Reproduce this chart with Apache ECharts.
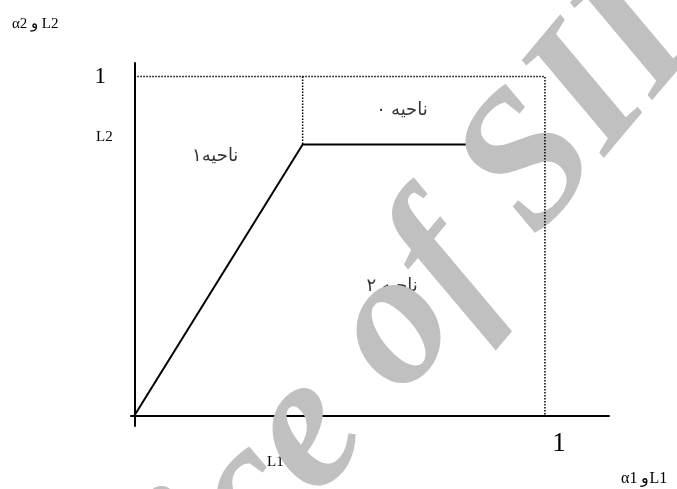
<!DOCTYPE html>
<html>
<head>
<meta charset="utf-8">
<script src="https://cdn.jsdelivr.net/npm/echarts@6/dist/echarts.min.js"></script>
<style>
  html, body { margin: 0; padding: 0; background: #fff; }
  #main { width: 677px; height: 489px; }
</style>
</head>
<body>
<div id="main"></div>
<script>
// 边界线（实线）
var boundaryX = [0, 0.41, 0.81];
var boundaryY = [0, 0.8, 0.8];
// 外框（虚线）
var frameX = [0, 1, 1];
var frameY = [1, 1, 0];
var dividerX = [0.41, 0.41];
var dividerY = [1, 0.8];
// 区域标签
var regionNames = ['ناحیه ۰', 'ناحیه۱', 'ناحیه ۲'];
var regionX = [0.652, 0.197, 0.628];
var regionY = [0.9, 0.767, 0.383];
// 坐标轴刻度
var tickValues = [1];

function pairs(xs, ys) {
    return xs.map(function (x, i) { return [x, ys[i]]; });
}

var chart = echarts.init(document.getElementById('main'));
var serif = '"Liberation Serif", "Times New Roman", serif';
var arabic = '"Liberation Sans", "DejaVu Sans", sans-serif';

var option = {
    animation: false,
    backgroundColor: '#fff',
    grid: { left: 131, right: 68, top: 63, bottom: 63 },
    xAxis: {
        type: 'value', min: -0.008, max: 1.156,
        splitLine: { show: false },
        axisTick: { show: false },
        axisLine: { onZero: true, lineStyle: { color: '#000', width: 2 } },
        axisLabel: {
            customValues: tickValues, margin: 4, padding: [0, 0, 0, 28],
            color: '#000', fontSize: 27, fontFamily: serif
        }
    },
    yAxis: {
        type: 'value', min: -0.03, max: 1.04,
        splitLine: { show: false },
        axisTick: { show: false },
        axisLine: { onZero: true, lineStyle: { color: '#000', width: 2 } },
        axisLabel: {
            customValues: tickValues, margin: 25, padding: [4, 0, 0, 0],
            color: '#000', fontSize: 23, fontFamily: serif
        }
    },
    graphic: [
        { type: 'text', x: 12, y: 17, style: { text: 'α2 و L2', font: '15px ' + serif, fill: '#000' } },
        { type: 'text', x: 621, y: 471, style: { text: 'α1 وL1', font: '16px ' + serif, fill: '#000' } },
        { type: 'text', x: 96, y: 130, style: { text: 'L2', font: '15px ' + serif, fill: '#000' } },
        { type: 'text', x: 267, y: 455, style: { text: 'L1', font: '15px ' + serif, fill: '#000' } },
        // 水印
        {
            type: 'text', x: 190, y: 574, rotation: 50 * Math.PI / 180, z: 50,
            style: {
                text: 'ice of SID', x: 0, y: 0, align: 'left', verticalAlign: 'middle',
                font: 'italic bold 192px ' + serif, fill: '#c0c0c0'
            }
        }
    ],
    series: [
        {
            type: 'line', data: pairs(boundaryX, boundaryY), symbol: 'none', z: 3,
            lineStyle: { color: '#000', width: 2 }
        },
        {
            type: 'line', data: pairs(frameX, frameY), symbol: 'none', z: 60,
            lineStyle: { color: '#000', width: 1.5, type: [1.5, 1.5] }
        },
        {
            type: 'line', data: pairs(dividerX, dividerY), symbol: 'none', z: 60,
            lineStyle: { color: '#000', width: 1.5, type: [1.5, 1.5] }
        },
        {
            type: 'scatter', symbolSize: 0, z: 4,
            data: regionNames.map(function (n, i) { return { name: n, value: [regionX[i], regionY[i]] }; }),
            label: {
                show: true, position: 'inside', formatter: '{b}',
                color: '#000', fontSize: 18, fontFamily: arabic
            }
        }
    ]
};

chart.setOption(option);
</script>
</body>
</html>
